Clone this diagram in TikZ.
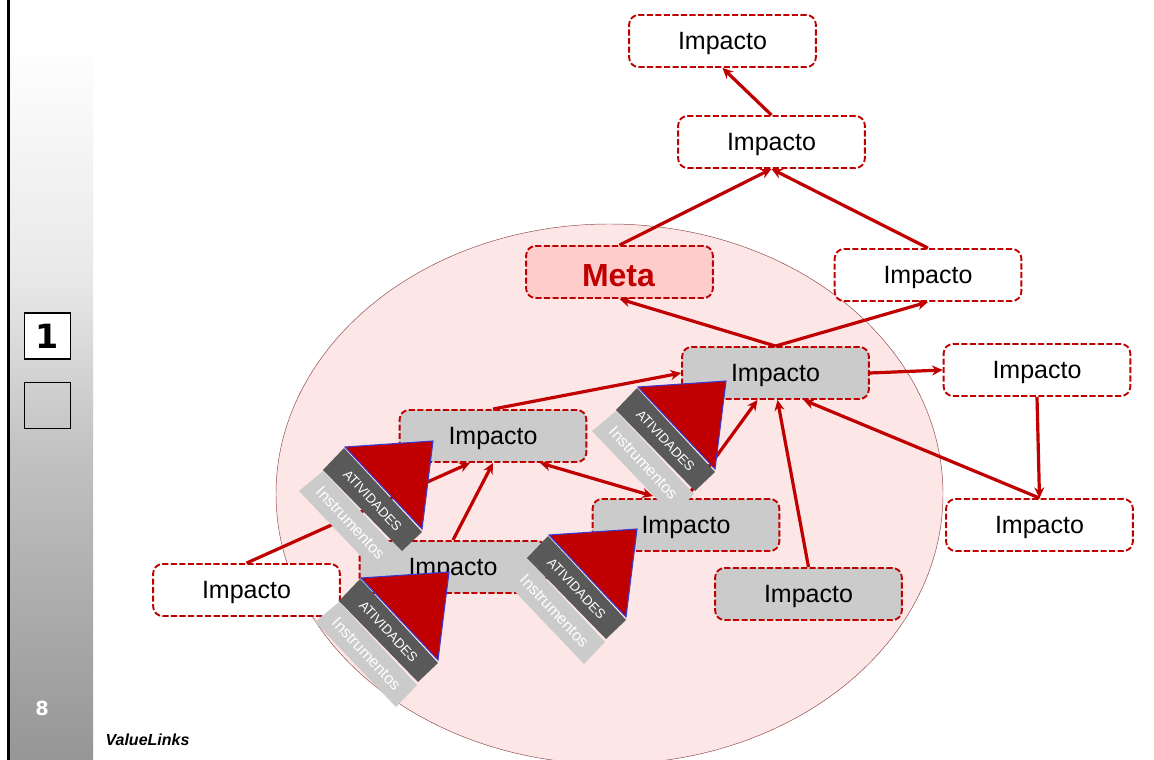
\documentclass[tikz,border=0pt]{standalone}
\usepackage{fontspec}
\setmainfont{Liberation Sans}
\newfontfamily\djv{DejaVu Sans}
\usetikzlibrary{arrows.meta,calc}
\definecolor{vlred}{HTML}{C00000}
\definecolor{vlpink}{HTML}{FDE6E6}
\definecolor{vlmeta}{HTML}{FFCCCC}
\definecolor{vlgray}{HTML}{CBCBCB}
\definecolor{vldark}{HTML}{595959}
\definecolor{vlblue}{HTML}{3A3AD0}
\definecolor{vlrim}{HTML}{904848}
\definecolor{sidea}{HTML}{969696}
\definecolor{sideb}{HTML}{C2C2C2}
\definecolor{sidec}{HTML}{E8E8E8}
\definecolor{sided}{HTML}{FEFEFE}
\pgfdeclareverticalshading{vlside}{100bp}{color(0bp)=(sidea); color(25bp)=(sidea); color(46.8bp)=(sideb); color(58.8bp)=(sidec); color(75bp)=(sided); color(100bp)=(sided)}
\tikzset{
  x=0.75pt,y=-0.75pt,
  impbox/.style={draw=vlred,line width=1.4pt,dash pattern=on 4.6pt off 1.8pt,rounded corners=7pt,
    minimum width=140pt,minimum height=39pt,inner sep=0pt,text=black,
    text height=16.4pt,text depth=3.9pt,
    font=\fontsize{18.75}{20}\selectfont},
  whitebox/.style={impbox,fill=white},
  graybox/.style={impbox,fill=vlgray},
  metabox/.style={impbox,fill=vlmeta,text=vlred,text height=21.5pt,text depth=0pt,font=\fontsize{24}{26}\bfseries\selectfont},
  link/.style={draw=vlred,line width=2.4pt,-{Stealth[length=8pt,width=7.5pt]}},
  biglink/.style={draw=vlred,line width=2.4pt,{Stealth[length=8pt,width=7.5pt]}-{Stealth[length=8pt,width=7.5pt]}},
  sidebox/.style={draw=black,line width=0.8pt,minimum width=35pt,minimum height=34.5pt,inner sep=0pt},
  bandtext/.style={text=white,rotate=-47,inner sep=0pt},
}
\newcommand{\instgroup}[3]{%
  \begin{scope}[shift={(#1,#2)}]
    \fill[vlgray] (299,491) -- (323,471) -- (401,554) -- (380,576) -- cycle;
    \fill[vldark] (344,448) -- (422,532) -- (402,551) -- (323,470) -- cycle;
    \filldraw[fill=vlred,draw=vlblue,line width=0.8pt] (345,447) -- (433,441) -- (422,529) -- cycle;
    \node[bandtext,font=\fontsize{10}{11}\selectfont] (ativ#3) at (372.5,500.5) {ATIVIDADES};
    \node[bandtext,font=\fontsize{12}{13}\selectfont] (inst#3) at (350.5,523) {Instrumentos};
  \end{scope}}
\begin{document}
\begin{tikzpicture}
\useasboundingbox (0,0) rectangle (1154,760);
\clip (0,0) rectangle (1154,760);
% sidebar
\fill[white] (0,0) rectangle (1154,760);
\shade[shading=vlside] (10,50) rectangle (93,760);
\fill[black] (7,0) rectangle (10,760);
\node[sidebox,fill=white,font=\djv\fontsize{25}{27}\bfseries\selectfont] (one) at (47.5,336) {1};
\node[sidebox] (blank) at (47.5,405.5) {};
\node[text=white,font=\djv\fontsize{14.5}{16}\bfseries\selectfont,inner sep=0pt] (page) at (42,708) {8};
\node[font=\fontsize{12}{13}\bfseries\itshape\selectfont,inner sep=0pt] (brand) at (147.5,739.5) {ValueLinks};
% ellipse
\filldraw[fill=vlpink,draw=vlrim,line width=0.35pt] (609.5,494) ellipse [x radius=333.5,y radius=270];
% nodes
\node[whitebox] (n1) at (722.5,41) {Impacto};
\node[whitebox] (n2) at (771.5,142) {Impacto};
\node[metabox] (meta) at (619.5,272) {\hspace*{-1.5pt}Meta};
\node[whitebox] (n3) at (928,275) {Impacto};
\node[graybox] (n4) at (775.5,373) {Impacto};
\node[whitebox] (n5) at (1037,370) {Impacto};
\node[whitebox] (n6) at (1039.5,525) {Impacto};
\node[graybox] (n7) at (493,436) {Impacto};
\node[graybox] (n8) at (686,525) {Impacto};
\node[graybox] (n9) at (808.5,594) {Impacto};
\node[graybox] (n10) at (453,567) {Impacto};
\node[whitebox] (n11) at (246.5,590) {Impacto};
% anchors off centre
\coordinate (n4a) at ($(n4.south)+(28,0)$);
\coordinate (n4b) at ($(n4.south)+(2,0)$);
\coordinate (n4c) at ($(n4.south)+(-18,0)$);
\coordinate (n7a) at ($(n7.south)+(47,0)$);
\coordinate (n7b) at ($(n7.south)+(-23,0)$);
\coordinate (n8a) at ($(n8.north)+(-33,-2)$);
% connectors
\draw[link] (n2.north) -- (n1.south);
\draw[link] (meta.north) -- (n2.south);
\draw[link] (n3.north) -- (n2.south);
\draw[link] (n4.north) -- (meta.south);
\draw[link] (n4.north) -- (n3.south);
\draw[link] (n4.east) -- (n5.west);
\draw[link] (n5.south) -- (n6.north);
\draw[link] (n6.north) -- (n4a);
\draw[link] (n9.north) -- (n4b);
\draw[link] (n8.north) -- (n4c);
\draw[link] (n7.north) -- (n4.west);
\draw[biglink] (n7a) -- (n8a);
\draw[link] (n10.north) -- (n7.south);
\draw[link] (n11.north) -- (n7b);
% instrument groups
\instgroup{293}{-60}{d}
\instgroup{0}{0}{a}
\instgroup{204}{88}{c}
\instgroup{16}{131}{b}
\end{tikzpicture}
\end{document}
